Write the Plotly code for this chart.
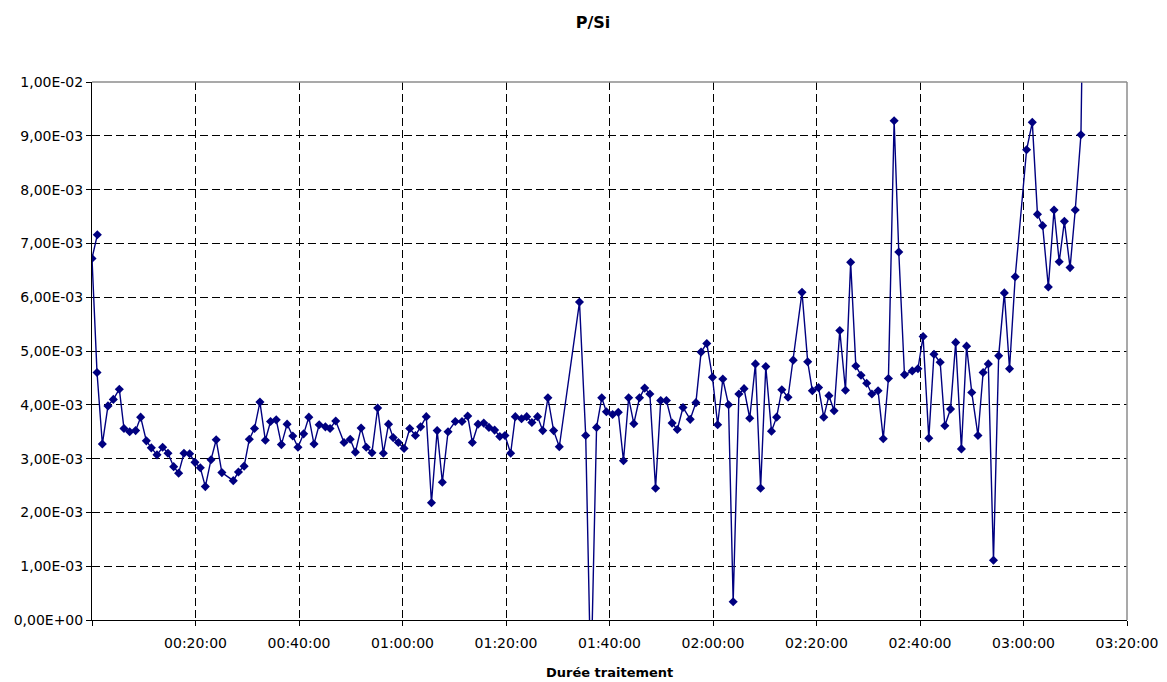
import plotly.graph_objects as go

# Elapsed treatment time (minutes) and P/Si ratio (in units of 1e-3)
minutes = [
    1.03, 0.0, 0.97, 2.0, 3.09, 4.12, 5.28, 6.18, 7.28, 8.43, 9.4, 10.5, 11.46, 12.56, 13.65,
    14.68, 15.78, 16.74, 17.77, 18.87, 19.9, 20.93, 21.9, 23.0, 24.0, 25.1, 27.3, 28.3,
    29.4, 30.4, 31.4, 32.45, 33.5, 34.5, 35.6, 36.6, 37.7, 38.8, 39.8, 40.9, 41.9, 42.9,
    43.9, 45.1, 46.0, 47.1, 48.7, 49.9, 50.9, 52.0, 53.0, 54.1, 55.2, 56.3, 57.3, 58.2,
    59.2, 60.3, 61.4, 62.5, 63.5, 64.6, 65.6, 66.7, 67.7, 68.8, 70.2, 71.5, 72.6, 73.5,
    74.6, 75.7, 76.7, 77.8, 78.8, 79.8, 80.9, 81.8, 83.0, 84.0, 85.0, 86.1, 87.1, 88.1,
    89.2, 90.3, 94.2, 95.4, 96.4, 97.5, 98.5, 99.4, 100.6, 101.7, 102.7, 103.7, 104.7,
    105.8, 106.8, 107.8, 108.9, 109.9, 111.0, 112.1, 113.1, 114.2, 115.6, 116.7, 117.7,
    118.8, 119.9, 120.9, 121.9, 123.0, 123.9, 125.0, 126.0, 127.1, 128.2, 129.2, 130.2,
    131.3, 132.3, 133.3, 134.5, 135.5, 137.2, 138.3, 139.2, 140.4, 141.4, 142.4, 143.4,
    144.5, 145.6, 146.6, 147.6, 148.6, 149.7, 150.7, 151.9, 152.9, 153.9, 155.0, 155.9,
    157.0, 158.5, 159.6, 160.6, 161.7, 162.7, 163.9, 164.8, 165.9, 166.9, 168.0, 169.0,
    170.0, 171.2, 172.2, 173.2, 174.2, 175.2, 176.3, 177.3, 178.4, 180.6, 181.7, 182.7,
    183.7, 184.8, 185.9, 186.9, 187.9, 189.0, 190.0, 191.1, 192.0,
]
p_si_e3 = [
    7.16, 6.72, 4.60, 3.27, 3.98, 4.10, 4.29, 3.56, 3.50, 3.52, 3.77, 3.33, 3.20, 3.07, 3.21,
    3.10, 2.85, 2.73, 3.10, 3.09, 2.93, 2.83, 2.48, 2.98, 3.35, 2.74, 2.59, 2.75,
    2.86, 3.36, 3.56, 4.05, 3.34, 3.69, 3.72, 3.26, 3.64, 3.42, 3.21, 3.46, 3.77, 3.27,
    3.63, 3.59, 3.56, 3.70, 3.30, 3.36, 3.12, 3.57, 3.21, 3.11, 3.94, 3.10, 3.64, 3.39,
    3.30, 3.19, 3.56, 3.43, 3.59, 3.78, 2.18, 3.52, 2.56, 3.50, 3.69, 3.69, 3.79, 3.30,
    3.64, 3.66, 3.58, 3.53, 3.41, 3.43, 3.10, 3.78, 3.74, 3.78, 3.67, 3.78, 3.52, 4.13,
    3.52, 3.22, 5.91, 3.43, -1.2, 3.58, 4.13, 3.87, 3.82, 3.86, 2.96, 4.13, 3.65,
    4.13, 4.31, 4.20, 2.45, 4.08, 4.08, 3.66, 3.54, 3.95, 3.73, 4.04, 4.98,
    5.14, 4.51, 3.63, 4.48, 4.00, 0.34, 4.20, 4.30, 3.75, 4.76, 2.45, 4.71,
    3.51, 3.77, 4.28, 4.14, 4.83, 6.09, 4.80, 4.26, 4.32, 3.77, 4.17, 3.89,
    5.38, 4.27, 6.65, 4.72, 4.55, 4.40, 4.20, 4.26, 3.37, 4.49, 9.28, 6.84,
    4.56, 4.63, 4.67, 5.27, 3.38, 4.94, 4.79, 3.61, 3.92, 5.16, 3.18, 5.09,
    4.23, 3.43, 4.60, 4.76, 1.11, 4.91, 6.08, 4.67, 6.38, 8.74, 9.25, 7.54,
    7.33, 6.19, 7.62, 6.66, 7.41, 6.55, 7.62, 9.02, 15.0,
]

x_tick_minutes = [0, 20, 40, 60, 80, 100, 120, 140, 160, 180, 200]
x_tick_labels = ["", "00:20:00", "00:40:00", "01:00:00", "01:20:00", "01:40:00",
                 "02:00:00", "02:20:00", "02:40:00", "03:00:00", "03:20:00"]
y_tick_values = [0.0, 0.001, 0.002, 0.003, 0.004, 0.005, 0.006, 0.007, 0.008, 0.009, 0.01]
y_tick_labels = ["0,00E+00", "1,00E-03", "2,00E-03", "3,00E-03", "4,00E-03", "5,00E-03",
                 "6,00E-03", "7,00E-03", "8,00E-03", "9,00E-03", "1,00E-02"]

y_values = [v * 1e-3 for v in p_si_e3]

FONT = "DejaVu Sans, Liberation Sans, Arial, sans-serif"
NAVY = "#000080"

# the page body adds an 8px offset; figure is sized to compensate
W, H = 1159, 674
ML, MT, MR, MB = 84, 74, 40, 62
PLOT_H = H - MT - MB

fig = go.Figure()
fig.add_trace(go.Scatter(
    x=minutes, y=y_values, mode="lines+markers",
    line=dict(color=NAVY, width=1.4),
    marker=dict(symbol="diamond", size=7, color=NAVY),
    showlegend=False, hoverinfo="x+y",
))

axis_common = dict(
    showgrid=True, gridcolor="black", gridwidth=1, griddash="8px,4px",
    showline=True, linecolor="black", linewidth=1,
    ticks="outside", ticklen=5, tickcolor="black", tickwidth=1,
    zeroline=False, automargin=False,
    tickfont=dict(family=FONT, size=14, color="black"),
)

fig.update_xaxes(range=[0, 200], tickmode="array", tickvals=x_tick_minutes,
                 ticktext=x_tick_labels, ticklabelstandoff=5, **axis_common)
fig.update_yaxes(range=[0, 0.01], tickmode="array", tickvals=y_tick_values,
                 ticktext=y_tick_labels, **axis_common)

# gray border on top and right of plot area
fig.add_shape(type="line", xref="paper", yref="paper", x0=0, x1=1, y0=1, y1=1,
              line=dict(color="#8c8c8c", width=1.5))
fig.add_shape(type="line", xref="paper", yref="paper", x0=1, x1=1, y0=0, y1=1,
              line=dict(color="#8c8c8c", width=1.5))

fig.add_annotation(text="<b>Durée traitement</b>", xref="paper", yref="paper",
                   x=0.5, y=-(672 - 620) / PLOT_H, xanchor="center", yanchor="middle",
                   showarrow=False, font=dict(family=FONT, size=13, color="black"))

fig.update_layout(
    width=W, height=H,
    margin=dict(l=ML, r=MR, t=MT, b=MB),
    paper_bgcolor="white", plot_bgcolor="white",
    title=dict(text="<b>P/Si</b>", x=585 / W, xanchor="center",
               y=1 - 14 / H, yanchor="middle",
               font=dict(family=FONT, size=16, color="black")),
)

fig.write_html("out.html")
